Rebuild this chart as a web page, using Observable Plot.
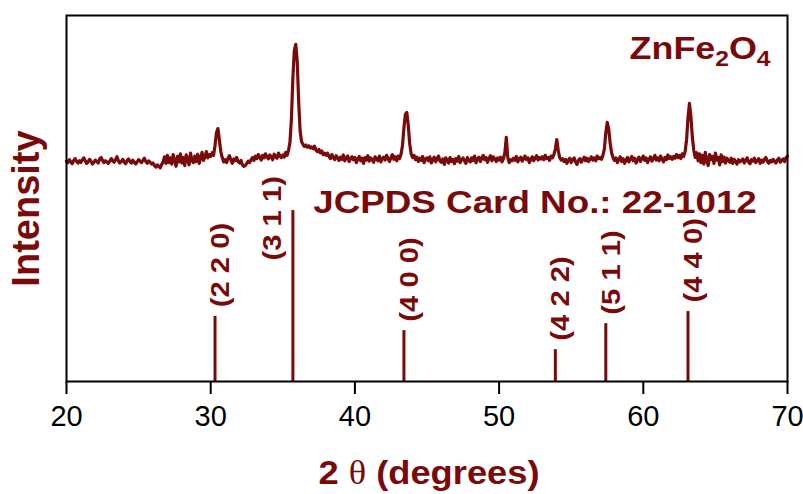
<!DOCTYPE html>
<html><head><meta charset="utf-8">
<script src="https://cdn.jsdelivr.net/npm/d3@7"></script>
<script src="https://cdn.jsdelivr.net/npm/@observablehq/plot@0.6"></script>
<style>body{margin:0;background:#fff}</style>
</head><body><div id="chart"></div>
<script>
// ---- data ----
const startAngle = 20;     // first 2θ sample (degrees)
const stepAngle = 0.1;     // sampling step (degrees)
const intensity = [
602,598,606,600,595,604,609,601,597,603,
599,606,611,603,596,600,607,602,594,599,
605,601,597,608,612,604,598,603,600,596,
602,609,604,599,606,614,603,597,601,607,
600,595,603,608,601,597,605,599,594,600,
606,602,598,604,610,601,596,603,599,594,
597,590,586,592,588,584,593,600,614,596,
618,598,611,594,620,603,588,615,600,622,
597,612,590,619,606,592,624,603,598,616,
601,621,596,610,626,604,613,628,611,620,
615,625,618,645,680,691,660,628,612,600,
606,598,610,617,605,596,608,603,612,601,
597,604,592,588,590,596,602,598,606,612,
604,616,609,620,612,605,618,611,622,614,
608,619,613,606,621,615,610,624,616,612,
619,613,626,618,632,655,720,830,905,921,
875,765,685,655,648,642,646,640,644,638,
641,636,643,632,628,634,625,630,620,624,
618,624,615,609,620,612,606,617,611,604,
613,607,619,603,611,616,601,609,614,606,
612,598,608,615,603,610,596,612,605,617,
602,611,606,599,614,608,603,616,600,609,
613,605,618,609,601,612,620,607,614,603,
616,609,621,645,692,730,735,700,650,622,
612,618,606,613,601,610,604,615,598,608,
611,603,614,597,606,613,600,609,616,602,
599,608,593,611,604,597,612,601,607,595,
609,602,615,598,606,611,603,596,612,605,
600,611,604,616,598,608,613,601,610,618,
606,612,599,610,617,603,614,608,601,611,
605,613,600,609,625,667,612,598,606,603,
610,604,615,600,608,613,602,609,616,606,
611,598,607,614,603,610,617,605,612,608,
614,606,618,609,612,604,616,611,620,635,
661,632,612,605,609,601,607,596,604,610,
598,606,611,600,593,604,609,599,606,613,
603,610,601,607,614,605,611,603,616,609,
612,607,618,635,680,708,690,652,625,612,
604,611,598,607,614,601,609,596,605,612,
600,608,615,603,610,597,606,613,601,609,
616,604,611,598,607,614,602,609,618,605,
611,603,616,608,600,612,606,619,609,614,
607,615,610,620,612,618,609,622,615,628,
660,720,760,725,668,632,612,625,603,622,
598,618,594,626,603,590,620,606,615,596,
624,605,612,592,619,601,613,597,610,604,
599,610,596,607,601,594,606,600,603,608,
597,604,611,600,595,606,602,610,598,603,
609,596,605,599,607,612,601,596,604,600,
607,602,597,605,610,599,604,608,601,612,
616
];
const stickAngle = [30.3, 35.7, 43.4, 53.9, 57.4, 63.1];
const stickIntensity = [178, 467, 139, 87, 158, 191];
const stickHkl = ["(2 2 0)", "(3 1 1)", "(4 0 0)", "(4 2 2)", "(5 1 1)", "(4 4 0)"];
const xTicks = [20, 30, 40, 50, 60, 70];
const xDomain = [20, 70];
const yDomain = [0, 1000];
const sampleName = "ZnFe2O4";
const cardLabel = "JCPDS Card No.: 22-1012";
const xLabel = "2 θ (degrees)";
const yLabel = "Intensity";

// ---- build ----
const RED = "#7a0a0a";
const FONT = "Liberation Sans, Arial, Helvetica, sans-serif";
const pattern = intensity.map((v, i) => ({angle: +(startAngle + i * stepAngle).toFixed(1), counts: v}));
const sticks = stickAngle.map((a, i) => ({angle: a, counts: stickIntensity[i], hkl: stickHkl[i]}));
const mainLabel = "(3 1 1)";

const svg = Plot.plot({
  width: 803, height: 494,
  marginLeft: 66, marginRight: 16, marginTop: 15, marginBottom: 113,
  style: {fontFamily: FONT, fontSize: "29px", color: "black", background: "white"},
  x: {domain: xDomain},
  y: {domain: yDomain},
  marks: [
    Plot.axisX({ticks: xTicks, tickSize: 13, tickPadding: 11, strokeWidth: 2, fontSize: 29, label: null, stroke: "black", fill: "black"}),
    Plot.axisY({ticks: [], label: null}),
    Plot.ruleX(sticks, {x: "angle", y1: 0, y2: "counts", stroke: RED, strokeWidth: 3}),
    Plot.line(pattern, {x: "angle", y: "counts", stroke: RED, strokeWidth: 3.2, strokeLinejoin: "round"}),
    Plot.text(sticks.filter(d => d.hkl !== mainLabel), {x: "angle", y: "counts", text: "hkl", rotate: -90, textAnchor: "start", lineAnchor: "middle", dx: 6, dy: -9, fill: RED, fontWeight: "bold", fontSize: 25, fontFamily: FONT}),
    Plot.text(sticks.filter(d => d.hkl === mainLabel), {x: "angle", y: "counts", text: "hkl", rotate: -90, textAnchor: "start", lineAnchor: "middle", dx: -20, dy: 50, fill: RED, fontWeight: "bold", fontSize: 25, fontFamily: FONT}),
    Plot.text([sampleName], {frameAnchor: "top-right", textAnchor: "end", lineAnchor: "middle", dx: -17, dy: 33, fill: RED, fontWeight: "bold", fontSize: 32, fontFamily: FONT}),
    Plot.text([cardLabel], {frameAnchor: "top", textAnchor: "middle", lineAnchor: "middle", dx: 108, dy: 187, fill: RED, fontWeight: "bold", fontSize: 32, fontFamily: FONT}),
    Plot.text([xLabel], {frameAnchor: "bottom", textAnchor: "middle", lineAnchor: "middle", dx: 2, dy: 92, fill: RED, fontWeight: "bold", fontSize: 33, fontFamily: FONT}),
    Plot.text([yLabel], {frameAnchor: "left", textAnchor: "middle", rotate: -90, lineAnchor: "middle", dx: -40, dy: 10, fill: RED, fontWeight: "bold", fontSize: 38, fontFamily: FONT}),
    Plot.frame({stroke: "black", strokeWidth: 2})
  ]
});

// ---- text refinements (subscripts, theta glyph, wide bold lettering) ----
const NS = "http://www.w3.org/2000/svg";
function stretch(t, sx) {
  let tr = t.getAttribute("transform") || "";
  const x = t.getAttribute("x");
  if (x != null) { t.removeAttribute("x"); tr += ` translate(${x},0)`; }
  t.setAttribute("transform", (tr + ` scale(${sx},1)`).trim());
}
function span(txt, attrs) {
  const s = document.createElementNS(NS, "tspan");
  s.textContent = txt;
  for (const k in attrs) s.setAttribute(k, attrs[k]);
  return s;
}
svg.querySelectorAll("text").forEach(t => {
  const s = t.textContent;
  if (s === sampleName) {
    t.textContent = "";
    t.append(span("ZnFe", {}), span("2", {"font-size": "22", dy: "7"}), span("O", {dy: "-7"}), span("4", {"font-size": "22", dy: "7"}));
    stretch(t, 1.12);
  } else if (s === cardLabel) {
    stretch(t, 1.15);
  } else if (s === xLabel) {
    t.textContent = "";
    t.append(span("2 ", {}), span("θ", {"font-family": "Liberation Serif, Times New Roman, serif", "font-weight": "normal"}), span(" (degrees)", {}));
    stretch(t, 1.1);
  } else if (stickHkl.includes(s)) {
    stretch(t, 1.17);
  }
});
document.getElementById("chart").append(svg);
</script>
</body></html>
